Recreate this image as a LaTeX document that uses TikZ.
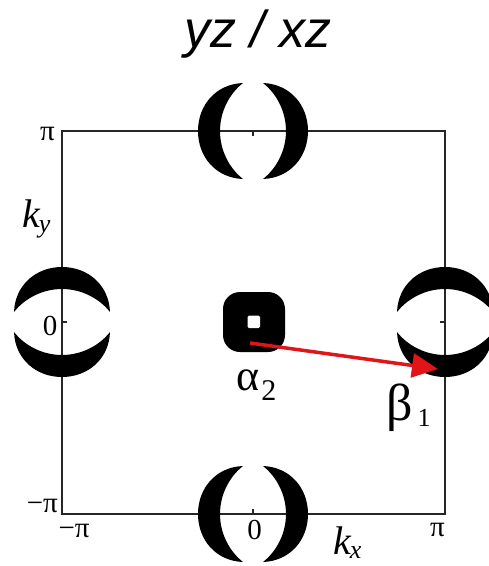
\documentclass[tikz,border=0pt]{standalone}
\usepackage{fontspec}
\setmainfont{Liberation Serif}
\newfontfamily\titlefont{Liberation Sans}
\usetikzlibrary{arrows.meta}
\definecolor{arrowred}{RGB}{225,20,25}
\tikzset{
  frameline/.style={draw=black!85,line width=1.8pt},
  tickmark/.style={draw=black!85,line width=1.4pt},
  ticklabel/.style={font=\fontsize{29}{29}\selectfont, inner sep=0pt},
  biglabel/.style={inner sep=0pt, anchor=base west},
  pocket/.pic={
    \fill[black] (-10,48) .. controls (-37,47) and (-55,26) .. (-55,0)
      .. controls (-55,-26) and (-37,-47) .. (-10,-48)
      .. controls (-24,-37) and (-33,-19) .. (-33,0)
      .. controls (-33,19) and (-24,37) .. (-10,48) -- cycle;
    \fill[black] (10,48) .. controls (37,47) and (55,26) .. (55,0)
      .. controls (55,-26) and (37,-47) .. (10,-48)
      .. controls (24,-37) and (33,-19) .. (33,0)
      .. controls (33,19) and (24,37) .. (10,48) -- cycle;
  }
}
\begin{document}
\begin{tikzpicture}[x=1pt,y=-1pt]
\useasboundingbox (0,0) rectangle (489,566);
% title
\node[font=\titlefont\itshape\fontsize{52}{52}\selectfont, anchor=base, inner sep=0pt] (title) at (258,47) {yz / xz};
% frame
\coordinate (tl) at (62,131);
\coordinate (br) at (445,514);
\draw[frameline] (tl) rectangle (br);
\coordinate (ttop) at (253,131);
\coordinate (tbot) at (253,514);
\coordinate (tleft) at (62,322);
\coordinate (tright) at (445,322);
\draw[tickmark] (ttop) -- ++(0,5);
\draw[tickmark] (tbot) -- ++(0,-5);
\draw[tickmark] (tleft) -- ++(5,0);
\draw[tickmark] (tright) -- ++(-5,0);
% pockets
\pic at (ttop) {pocket};
\pic at (tbot) {pocket};
\pic[rotate=90] at (tleft) {pocket};
\pic[rotate=90] at (tright) {pocket};
% central pocket
\fill[black, rounded corners=17pt] (223,292) rectangle (285,352);
\fill[white, rounded corners=1.5pt] (247.5,315.5) rectangle (260,328);
% tick labels
\node[ticklabel, anchor=base] (ypi) at (47.5,140) {π};
\node[ticklabel, anchor=base] (yzero) at (50,335) {0};
\node[ticklabel, anchor=base east] (ympi) at (58,512) {−π};
\node[ticklabel, anchor=base] (xmpi) at (74,537) {−π};
\node[ticklabel, anchor=base] (xzero) at (254.5,539) {0};
\node[ticklabel, anchor=base] (xpi) at (437.5,536) {π};
% axis labels
\node[biglabel] (ky) at (22,227) {\fontsize{40}{40}\selectfont\itshape k\kern-1pt\raisebox{-5pt}{\fontsize{26}{26}\selectfont y}};
\node[biglabel] (kx) at (333,554) {\fontsize{40}{40}\selectfont\itshape k\kern-1pt\raisebox{-4pt}{\fontsize{26}{26}\selectfont x}};
% arrow
\coordinate (astart) at (250,343);
\coordinate (aend) at (438,369);
\draw[arrowred, line width=3.5pt, -{Triangle[length=26pt,width=24pt]}] (astart) -- (aend);
% band labels
\node[biglabel] (alpha) at (236,390) {\fontsize{44}{44}\selectfont α\kern2pt\raisebox{-10pt}{\fontsize{30}{30}\selectfont 2}};
\node[biglabel] (beta) at (386,420) {\fontsize{52}{52}\selectfont β\kern5pt\raisebox{-6pt}{\fontsize{26}{26}\selectfont 1}};
\end{tikzpicture}
\end{document}
